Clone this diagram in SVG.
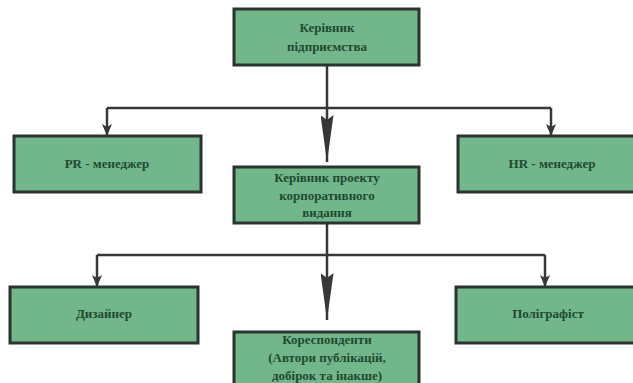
<svg xmlns="http://www.w3.org/2000/svg" width="633" height="383" viewBox="0 0 633 383">
<defs>
<style>
.box{fill:#72b78b;stroke:#2b332e;stroke-width:3}
.t{font-family:"Liberation Serif","DejaVu Serif",serif;font-weight:bold;font-size:13px;fill:#1f4a30;text-anchor:middle}
.c{stroke:#353836;stroke-width:2.5;fill:none}
</style>
<marker id="aS" viewBox="0 0 12 10" markerUnits="userSpaceOnUse" markerWidth="12" markerHeight="10" refX="12" refY="5" orient="auto">
<path d="M0,0 L12,5 L0,10 L3,5 Z" fill="#353836"/>
</marker>
<marker id="aL" viewBox="0 0 47 13" markerUnits="userSpaceOnUse" markerWidth="47" markerHeight="13" refX="47" refY="6.5" orient="auto">
<path d="M0,0 L47,6.5 L0,13 L5,6.5 Z" fill="#353836"/>
</marker>
</defs>
<rect width="633" height="383" fill="#ffffff"/>
<g id="connectors">
<path class="c" d="M327,65 V108"/>
<path class="c" d="M107,108 H551"/>
<path class="c" d="M107,108 V136" marker-end="url(#aS)"/>
<path class="c" d="M551,108 V136" marker-end="url(#aS)"/>
<path class="c" d="M327,108 V162" marker-end="url(#aL)"/>
<path class="c" d="M327,223 V255"/>
<path class="c" d="M97,255 H545"/>
<path class="c" d="M97,255 V287" marker-end="url(#aS)"/>
<path class="c" d="M545,255 V287" marker-end="url(#aS)"/>
<path class="c" d="M327,255 V320" marker-end="url(#aL)"/>
</g>
<g id="n-director">
<rect class="box" x="234" y="9" width="185" height="56"/>
<text class="t" x="327" y="32">Керівник</text>
<text class="t" x="327" y="51">підприємства</text>
</g>
<g id="n-pr">
<rect class="box" x="14" y="136" width="187" height="56"/>
<text class="t" x="107" y="168">PR - менеджер</text>
</g>
<g id="n-hr">
<rect class="box" x="458" y="136" width="187" height="56"/>
<text class="t" x="552" y="168">HR - менеджер</text>
</g>
<g id="n-project">
<rect class="box" x="234" y="167" width="185" height="56"/>
<text class="t" x="327" y="182">Керівник проекту</text>
<text class="t" x="327" y="200">корпоративного</text>
<text class="t" x="327" y="217">видання</text>
</g>
<g id="n-designer">
<rect class="box" x="10" y="287" width="188" height="56"/>
<text class="t" x="104" y="318">Дизайнер</text>
</g>
<g id="n-polygraph">
<rect class="box" x="456" y="287" width="188" height="56"/>
<text class="t" x="548" y="318">Поліграфіст</text>
</g>
<g id="n-correspondents">
<rect class="box" x="234" y="332" width="185" height="60"/>
<text class="t" x="327" y="344">Кореспонденти</text>
<text class="t" x="327" y="362">(Автори публікацій,</text>
<text class="t" x="327" y="380">добірок та інакше)</text>
</g>
</svg>
